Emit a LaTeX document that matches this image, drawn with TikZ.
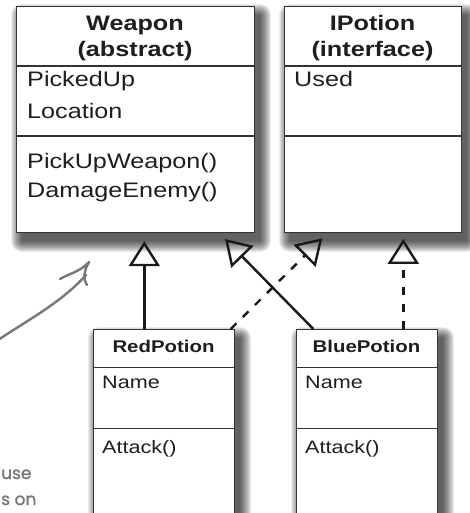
\documentclass[tikz,border=0pt]{standalone}
\usepackage{fontspec}
\setmainfont{Liberation Sans}[FakeStretch=1.2]
\newfontfamily\handfont{Poppins}[FakeBold=1.3]
\usetikzlibrary{arrows.meta}
\definecolor{boxline}{HTML}{333333}
\definecolor{txt}{HTML}{1E1E1E}
\definecolor{handgray}{HTML}{777777}
\newcommand\dropshade[4]{%
  \foreach \e in {0,1,...,11}{%
    \fill[black, opacity=0.075, rounded corners=\e pt]
      ({#1+6-\e},{#2+9-\e}) rectangle ({#3+6+\e},{#4+9+\e});
  }%
}
\tikzset{
  umlbox/.style={draw=boxline, line width=1.2pt, fill=white, inner sep=0pt, anchor=north west},
  divider/.style={draw=boxline, line width=1.2pt},
  bigtext/.style={font=\fontsize{21}{24}\selectfont, inner sep=0pt, text=txt},
  bighead/.style={font=\bfseries\fontsize{21}{24}\selectfont, inner sep=0pt, text=txt},
  smalltext/.style={font=\fontsize{18}{21}\selectfont, inner sep=0pt, text=txt},
  smallhead/.style={font=\bfseries\fontsize{17}{20}\selectfont, inner sep=0pt, text=txt},
  handtext/.style={font=\handfont\fontsize{17}{19}\selectfont, inner sep=0pt, text=handgray},
  inh/.style={draw=black!90, line width=2.4pt,
    -{Triangle[open, length=25pt, width=31pt]}},
  inhdash/.style={inh, dash pattern=on 8pt off 9pt},
}
\begin{document}
\begin{tikzpicture}[x=1pt, y=-1pt]
\useasboundingbox (0,0) rectangle (470,513);
\clip (0,0) rectangle (470,513);
\fill[white] (0,0) rectangle (470,513);

% shadows
\dropshade{16}{6}{254}{232}
\dropshade{284}{6}{461}{232}
\dropshade{93}{329}{234}{560}
\dropshade{296}{329}{437}{560}

% Weapon
\node[umlbox, minimum width=238pt, minimum height=226pt] (weapon) at (16,6) {};
\draw[divider] (16,66) -- (254,66);
\draw[divider] (16,136) -- (254,136);
\node[bighead, anchor=base] (wn1) at (135,31) {Weapon};
\node[bighead, anchor=base] (wn2) at (135,57) {(abstract)};
\node[bigtext, anchor=base west] (wa1) at (27,87) {PickedUp};
\node[bigtext, anchor=base west] (wa2) at (27,119) {Location};
\node[bigtext, anchor=base west] (wm1) at (27,168) {PickUpWeapon()};
\node[bigtext, anchor=base west] (wm2) at (27,197) {DamageEnemy()};

% IPotion
\node[umlbox, minimum width=177pt, minimum height=226pt] (ipotion) at (284,6) {};
\draw[divider] (284,66) -- (461,66);
\draw[divider] (284,136) -- (461,136);
\node[bighead, anchor=base] (in1) at (372.5,31) {IPotion};
\node[bighead, anchor=base] (in2) at (372.5,57) {(interface)};
\node[bigtext, anchor=base west] (ia1) at (294,87) {Used};

% RedPotion
\node[umlbox, minimum width=141pt, minimum height=230pt] (red) at (93,329) {};
\draw[divider] (93,367.5) -- (234,367.5);
\draw[divider] (93,428.5) -- (234,428.5);
\node[smallhead, anchor=base] (rn) at (163.5,352.5) {RedPotion};
\node[smalltext, anchor=base west] (ra) at (102,388.5) {Name};
\node[smalltext, anchor=base west] (rm) at (102,453) {Attack()};

% BluePotion
\node[umlbox, minimum width=141pt, minimum height=230pt] (blue) at (296,329) {};
\draw[divider] (296,367.5) -- (437,367.5);
\draw[divider] (296,428.5) -- (437,428.5);
\node[smallhead, anchor=base] (bn) at (366.5,352.5) {BluePotion};
\node[smalltext, anchor=base west] (ba) at (305,388.5) {Name};
\node[smalltext, anchor=base west] (bm) at (305,453) {Attack()};

% connectors
\path ([xshift=51.3pt]red.north west) coordinate (r1);
\path ([xshift=137.7pt]red.north west) coordinate (r2);
\path ([xshift=17.3pt]blue.north west) coordinate (b1);
\path ([xshift=107.3pt]blue.north west) coordinate (b2);
\coordinate (wtip) at (225,239);
\coordinate (itip) at (322.3,238.3);

\draw[inh, shorten >=8pt] (r1) -- (r1 |- weapon.south);
\draw[inh] (b1) -- (wtip);
\draw[inhdash] (r2) -- (itip);
\draw[inhdash, shorten >=5.7pt] (b2) -- (b2 |- ipotion.south);

% hand-drawn note arrow
\coordinate (hs) at (-2,340);
\coordinate (ht) at (89,262);
\draw[handgray, line width=2.4pt, line cap=round, line join=round]
  (hs) .. controls (28,320) and (62,302) .. (86,275);
\draw[handgray, line width=2.4pt, line cap=round, line join=round]
  (60,279) .. controls (68,274) and (80,272) .. (ht)
  .. controls (84,270) and (83,279) .. (87,285);
\node[handtext, anchor=base west] (h1) at (1,479) {use};
\node[handtext, anchor=base west] (h2) at (1,505) {s on};
\end{tikzpicture}
\end{document}
